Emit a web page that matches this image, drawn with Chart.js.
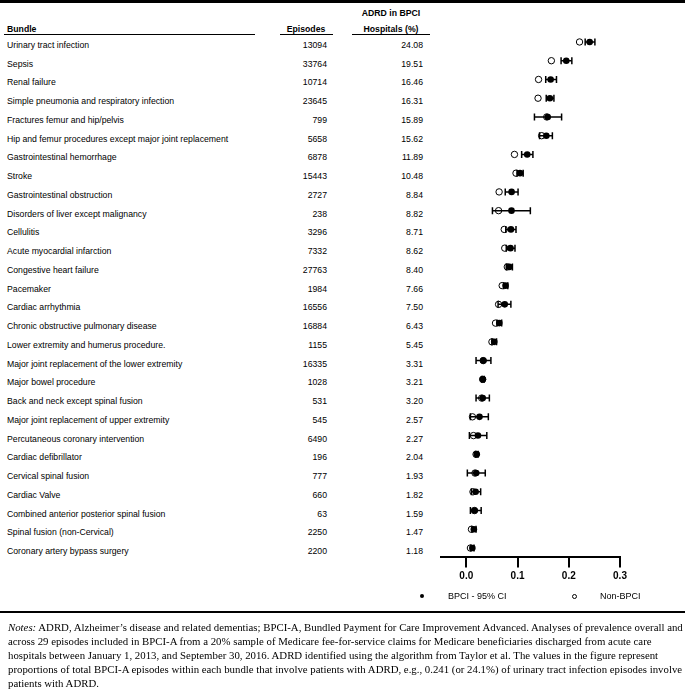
<!DOCTYPE html>
<html>
<head>
<meta charset="utf-8">
<title>ADRD in BPCI-A bundles</title>
<script src="https://cdn.jsdelivr.net/npm/chart.js@4"></script>
<style>
  html, body { margin:0; padding:0; background:#fff; }
  #page { position:relative; width:685px; height:691px; overflow:hidden; color:#000;
          font-family:"Liberation Sans", Arial, sans-serif; font-size:8.7px; }
  .rule { position:absolute; left:0; width:685px; background:#000; }
  .txt { position:absolute; white-space:nowrap; height:12px; line-height:12px; }
  .b { font-weight:bold; }
  .r { text-align:right; }
  .c { text-align:center; }
  .uline { position:absolute; top:34px; height:1px; background:#000; }
  #chartBox { position:absolute; left:430px; top:0; width:255px; height:612px; }
  .mark { position:absolute; border-radius:50%; box-sizing:border-box; }
  #notes { position:absolute; left:8px; top:620px; font-family:"Liberation Serif", "Times New Roman", serif;
           font-size:10.8px; line-height:14px; white-space:nowrap; }
</style>
</head>
<body>
<div id="page">
  <div class="rule" style="top:0;height:3px"></div>

  <div class="txt b c" style="left:346px;width:90px;top:7px">ADRD in BPCI</div>
  <div class="txt b" style="left:7px;top:23px">Bundle</div>
  <div class="txt b c" style="left:276px;width:60px;top:23px">Episodes</div>
  <div class="txt b c" style="left:346px;width:90px;top:23px">Hospitals (%)</div>
  <div class="uline" style="left:4px;width:251px"></div>
  <div class="uline" style="left:280px;width:53px"></div>
  <div class="uline" style="left:352px;width:78px"></div>

  <div id="rows"></div>

  <div id="chartBox"><canvas id="chart" width="255" height="612"></canvas></div>

  <div class="mark" style="left:419.7px;top:594px;width:4px;height:4px;background:#000"></div>
  <div class="txt" style="left:448px;top:590px;font-size:9px">BPCI - 95% CI</div>
  <div class="mark" style="left:571.5px;top:593.5px;width:5px;height:5px;border:1px solid #000"></div>
  <div class="txt" style="left:600px;top:590px;font-size:9px">Non-BPCI</div>

  <div class="rule" style="top:611px;height:1.5px"></div>

  <div id="notes">
    <i>Notes:</i> ADRD, Alzheimer’s disease and related dementias; BPCI-A, Bundled Payment for Care Improvement Advanced. Analyses of prevalence overall and<br>
    across 29 episodes included in BPCI-A from a 20% sample of Medicare fee-for-service claims for Medicare beneficiaries discharged from acute care<br>
    hospitals between January 1, 2013, and September 30, 2016. ADRD identified using the algorithm from Taylor et al. The values in the figure represent<br>
    proportions of total BPCI-A episodes within each bundle that involve patients with ADRD, e.g., 0.241 (or 24.1%) of urinary tract infection episodes involve<br>
    patients with ADRD.
  </div>
</div>

<script>
(() => {
  const bundles = [
    'Urinary tract infection',
    'Sepsis',
    'Renal failure',
    'Simple pneumonia and respiratory infection',
    'Fractures femur and hip/pelvis',
    'Hip and femur procedures except major joint replacement',
    'Gastrointestinal hemorrhage',
    'Stroke',
    'Gastrointestinal obstruction',
    'Disorders of liver except malignancy',
    'Cellulitis',
    'Acute myocardial infarction',
    'Congestive heart failure',
    'Pacemaker',
    'Cardiac arrhythmia',
    'Chronic obstructive pulmonary disease',
    'Lower extremity and humerus procedure.',
    'Major joint replacement of the lower extremity',
    'Major bowel procedure',
    'Back and neck except spinal fusion',
    'Major joint replacement of upper extremity',
    'Percutaneous coronary intervention',
    'Cardiac defibrillator',
    'Cervical spinal fusion',
    'Cardiac Valve',
    'Combined anterior posterior spinal fusion',
    'Spinal fusion (non-Cervical)',
    'Coronary artery bypass surgery'
  ];
  const episodes = [13094, 33764, 10714, 23645, 799, 5658, 6878, 15443, 2727, 238, 3296, 7332, 27763, 1984,
                    16556, 16884, 1155, 16335, 1028, 531, 545, 6490, 196, 777, 660, 63, 2250, 2200];
  const adrdPct = ['24.08', '19.51', '16.46', '16.31', '15.89', '15.62', '11.89', '10.48', '8.84', '8.82', '8.71',
                   '8.62', '8.40', '7.66', '7.50', '6.43', '5.45', '3.31', '3.21', '3.20', '2.57', '2.27', '2.04',
                   '1.93', '1.82', '1.59', '1.47', '1.18'];

  // plotted proportions (BPCI point, its 95% CI, and the non-BPCI point)
  const bpci = [0.2408, 0.1951, 0.1646, 0.1631, 0.1589, 0.1562, 0.1189, 0.1048, 0.0884, 0.0882, 0.0871,
                0.0862, 0.0840, 0.0766, 0.0750, 0.0643, 0.0545, 0.0331, 0.0321, 0.0320, 0.0257, 0.0227, 0.0204,
                0.0193, 0.0182, 0.0159, 0.0147, 0.0118];
  const ciLow = [0.232, 0.185, 0.155, 0.156, 0.133, 0.143, 0.108, 0.099, 0.076, 0.051, 0.077,
                 0.078, 0.078, 0.073, 0.062, 0.060, 0.050, 0.019, 0.030, 0.019, 0.008, 0.006, 0.018,
                 0.002, 0.010, 0.008, 0.011, 0.009];
  const ciHigh = [0.251, 0.206, 0.176, 0.171, 0.186, 0.168, 0.130, 0.111, 0.101, 0.125, 0.097,
                  0.095, 0.090, 0.081, 0.087, 0.069, 0.059, 0.048, 0.035, 0.045, 0.043, 0.040, 0.023,
                  0.037, 0.028, 0.029, 0.019, 0.015];
  const nonBpci = [0.221, 0.166, 0.141, 0.140, 0.157, 0.147, 0.094, 0.097, 0.064, 0.063, 0.074,
                   0.075, 0.080, 0.070, 0.063, 0.057, 0.050, 0.033, 0.032, 0.030, 0.012, 0.014, 0.019,
                   0.017, 0.013, 0.016, 0.010, 0.008];
  const xTicks = [0.0, 0.1, 0.2, 0.3];

  const el = id => document.getElementById(id);

  // whisker bodies, broken between rows with a null point
  const whiskers = [];
  const caps = [];
  bundles.forEach((_, i) => {
    whiskers.push({x: ciLow[i], y: i}, {x: ciHigh[i], y: i}, {x: null, y: null});
    caps.push({x: ciLow[i], y: i}, {x: ciHigh[i], y: i});
  });

  const chart = new Chart(el('chart').getContext('2d'), {
    type: 'scatter',
    data: {
      datasets: [
        { label: 'BPCI - 95% CI', data: bpci.map((v, i) => ({x: v, y: i})), order: 0,
          pointRadius: 3.3, pointBackgroundColor: '#000', pointBorderColor: '#000', pointBorderWidth: 0 },
        { label: 'CI caps', data: caps, order: 1,
          pointStyle: 'line', pointRotation: 90, pointRadius: 3.5, pointBorderColor: '#000', pointBorderWidth: 1.5 },
        { label: 'CI', data: whiskers, order: 2, showLine: true, spanGaps: false,
          borderColor: '#000', borderWidth: 1.5, pointRadius: 0 },
        { label: 'Non-BPCI', data: nonBpci.map((v, i) => ({x: v, y: i})), order: 3,
          pointRadius: 3.2, pointBackgroundColor: 'rgba(0,0,0,0)', pointBorderColor: '#000', pointBorderWidth: 1 }
      ]
    },
    options: {
      responsive: false,
      animation: false,
      events: [],
      layout: { padding: { left: 10.7, right: 65, top: 32.6, bottom: 24.6 } },
      plugins: { legend: { display: false }, tooltip: { enabled: false } },
      scales: {
        x: {
          type: 'linear', min: -0.05, max: 0.3,
          afterBuildTicks: s => { s.ticks = xTicks.map(v => ({value: v})); },
          afterFit: s => { s.height = 30; },
          ticks: { autoSkip: false, maxRotation: 0, padding: 3, color: '#000',
                   font: { family: '"Liberation Sans", Arial, sans-serif', size: 10, weight: 'bold' },
                   callback: v => Number(v).toFixed(1) },
          grid: { drawOnChartArea: false, drawTicks: true, tickLength: 10, color: '#000', lineWidth: 2 },
          border: { display: true, color: '#000', width: 2 }
        },
        y: { type: 'linear', min: -0.5, max: 27.5, reverse: true, display: false }
      }
    }
  });

  // table rows sit on the same rows as the plotted points
  const rows = el('rows');
  const yScale = chart.scales.y;
  bundles.forEach((name, i) => {
    const top = yScale.getPixelForValue(i) + 3 - 6;
    const cells = [
      [name, 'txt', 'left:7px'],
      [String(episodes[i]), 'txt r', 'left:260px;width:67px'],
      [adrdPct[i], 'txt r', 'left:360px;width:63px']
    ];
    cells.forEach(([text, cls, pos]) => {
      const d = document.createElement('div');
      d.className = cls;
      d.style.cssText = pos + ';top:' + top + 'px';
      d.textContent = text;
      rows.appendChild(d);
    });
  });
})();
</script>
</body>
</html>
